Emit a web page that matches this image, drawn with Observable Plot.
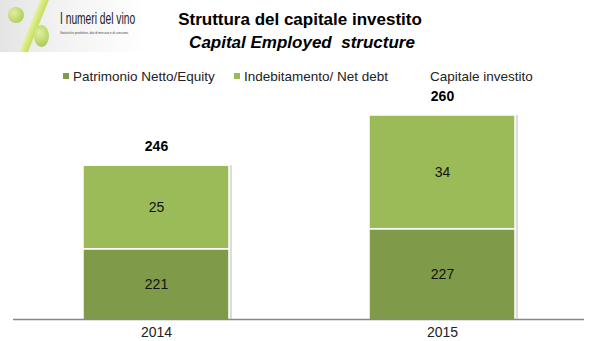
<!DOCTYPE html>
<html>
<head>
<meta charset="utf-8">
<script src="https://cdn.jsdelivr.net/npm/d3@7"></script>
<script src="https://cdn.jsdelivr.net/npm/@observablehq/plot@0.6"></script>
<style>
  html, body { margin:0; padding:0; background:#fff; }
  body { width:600px; height:341px; overflow:hidden; font-family:"Liberation Sans", Arial, sans-serif; position:relative; }
  #header { position:relative; width:600px; height:84px; }
  .abs { position:absolute; white-space:nowrap; }
  #logo { position:absolute; left:0; top:0; width:146px; height:52px; background:linear-gradient(90deg,#e4e4e4 0%,#f2f2f2 40%,#ffffff 100%); overflow:hidden; }
  #chart { position:absolute; left:0; top:84px; }
  .sw { display:inline-block; width:6px; height:6px; margin-right:4px; vertical-align:middle; position:relative; top:-1px; }
</style>
</head>
<body>
<div id="header">
  <div id="logo">
    <div class="abs" style="left:30px;top:-6px;width:8px;height:64px;background:linear-gradient(90deg,#e6f2a0,#c6de5c);transform:rotate(22deg);"></div>
    <div class="abs" style="left:8px;top:7px;width:16px;height:16px;border-radius:50%;background:radial-gradient(circle at 35% 35%,#e0efa0,#a4c244);"></div>
    <div class="abs" style="left:34px;top:25px;width:15px;height:22px;border-radius:50%;background:radial-gradient(circle at 35% 35%,#e0efa0,#a4c244);"></div>
    <div class="abs" style="left:60px;top:10px;font-size:16px;color:#222;transform:scaleX(0.64);transform-origin:left top;">I numeri del vino</div>
    <div class="abs" style="left:60px;top:30px;font-size:5px;color:#444;transform:scale(0.6,0.8);transform-origin:left top;">Statistiche produttive, dati di mercato e di consumo.</div>
  </div>
  <div class="abs" style="left:0;width:600px;text-align:center;top:10px;font-size:17px;font-weight:bold;color:#000;">Struttura del capitale investito</div>
  <div class="abs" style="left:2px;width:600px;text-align:center;top:33px;font-size:17px;font-weight:bold;font-style:italic;color:#000;">Capital Employed&nbsp; structure</div>
  <div class="abs" id="legend" style="top:69px;left:63px;font-size:13.5px;color:#222;"></div>
</div>
<div id="chart"></div>
<script>
const years = ["2014", "2015"];
const seriesNames = ["Patrimonio Netto/Equity", "Indebitamento/ Net debt"];
const totalName = "Capitale investito";
const equity = [221, 227];
const netDebt = [25, 34];
const totals = [246, 260];
const yMin = 200;
const colors = ["#7f9a48", "#9bbb59"];

// legend
const legend = document.getElementById("legend");
legend.innerHTML =
  `<span style="position:absolute;left:0;"><span class="sw" style="background:${colors[0]}"></span>${seriesNames[0]}</span>` +
  `<span style="position:absolute;left:171px;"><span class="sw" style="background:${colors[1]}"></span>${seriesNames[1]}</span>` +
  `<span style="position:absolute;left:367px;">${totalName}</span>`;

const data = years.flatMap((y, i) => [
  {year: y, series: seriesNames[0], value: equity[i], mid: (yMin + equity[i]) / 2},
  {year: y, series: seriesNames[1], value: netDebt[i], mid: equity[i] + netDebt[i] / 2}
]);
const totalData = years.map((y, i) => ({year: y, total: totals[i], top: equity[i] + netDebt[i]}));

const chart = Plot.plot({
  width: 600,
  height: 257,
  marginTop: 31,
  marginBottom: 22,
  marginLeft: 13,
  marginRight: 16,
  style: {fontFamily: "'Liberation Sans', Arial, sans-serif", fontSize: "14px", color: "#222", background: "transparent"},
  x: {domain: years, paddingInner: 0.49, paddingOuter: 0.243, label: null, tickSize: 0, tickPadding: 8},
  y: {domain: [yMin, 261], axis: null},
  color: {domain: seriesNames, range: colors},
  marks: [
    Plot.rectY(totalData, {x: "year", y1: () => yMin, y2: "top", fill: "#dcdcdc", dx: 3, clip: true}),
    Plot.barY(data, {x: "year", y: "value", fill: "series", stroke: "white", strokeWidth: 1.5, clip: true}),
    Plot.ruleY([yMin], {stroke: "#888", strokeWidth: 1.5}),
    Plot.text(data, {x: "year", y: "mid", text: d => String(d.value), fill: "#111", fontSize: 14}),
    Plot.text(totalData, {x: "year", y: "top", text: d => String(d.total), dy: -19, fill: "#000", fontSize: 14, fontWeight: "bold"})
  ]
});
document.getElementById("chart").appendChild(chart);
</script>
</body>
</html>
